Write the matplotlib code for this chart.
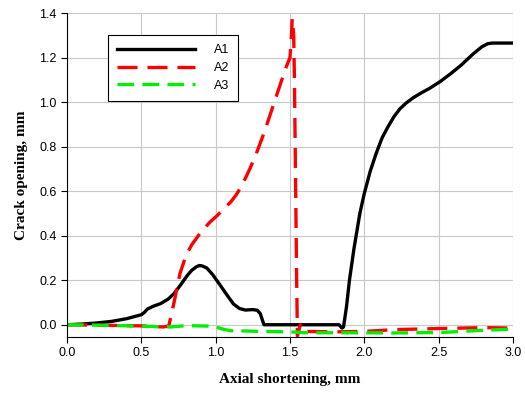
import matplotlib.pyplot as plt
import numpy as np

# A1 - black solid
a1_x = [0.0, 0.1, 0.2, 0.3, 0.4, 0.5, 0.52, 0.54, 0.58, 0.63, 0.68, 0.72, 0.76, 0.81, 0.84, 0.87,
        0.89, 0.91, 0.94, 0.98, 1.03, 1.08, 1.12, 1.16, 1.2, 1.25, 1.28, 1.3, 1.31, 1.325, 1.5,
        1.7, 1.83, 1.85, 1.86, 1.88, 1.9, 1.93, 1.97, 2.0, 2.04, 2.08, 2.12, 2.16, 2.2, 2.24,
        2.28, 2.33, 2.38, 2.44, 2.51, 2.58, 2.65, 2.73, 2.79, 2.83, 2.86, 3.0]
a1_y = [0.0, 0.003, 0.008, 0.015, 0.027, 0.045, 0.055, 0.07, 0.083, 0.095, 0.115, 0.14, 0.175,
        0.222, 0.245, 0.26, 0.266, 0.264, 0.255, 0.225, 0.178, 0.13, 0.093, 0.073, 0.066, 0.068,
        0.065, 0.05, 0.03, 0.0, 0.0, 0.0, 0.0, -0.015, -0.01, 0.08, 0.2, 0.34, 0.5, 0.59, 0.69,
        0.77, 0.84, 0.89, 0.935, 0.97, 0.995, 1.02, 1.04, 1.062, 1.092, 1.127, 1.165, 1.215,
        1.248, 1.262, 1.265, 1.265]

# A2 - red dashed
a2_x = [0.0, 0.3, 0.5, 0.65, 0.685, 0.72, 0.76, 0.8, 0.84, 0.9, 0.96, 1.01, 1.06, 1.1, 1.14,
        1.18, 1.23, 1.28, 1.33, 1.38, 1.43, 1.47, 1.5, 1.51, 1.515, 1.525, 1.53, 1.545, 1.55, 1.57,
        1.6, 1.8, 2.0, 2.2, 2.5, 2.8, 3.0]
a2_y = [0.0, -0.003, -0.005, -0.01, -0.005, 0.1, 0.23, 0.31, 0.36, 0.415, 0.46, 0.49, 0.525,
        0.55, 0.585, 0.63, 0.7, 0.78, 0.87, 0.97, 1.07, 1.15, 1.2, 1.3, 1.375, 1.3, 1.1, 0.2,
        -0.05, 0.0, -0.03, -0.032, -0.03, -0.022, -0.017, -0.013, -0.015]

# A3 - green dashed
a3_x = [0.0, 0.3, 0.6, 0.7, 0.8, 0.95, 1.0, 1.05, 1.1, 1.2, 1.3, 1.5, 1.6, 1.8, 2.0, 2.2,
        2.5, 2.6, 2.7, 2.9, 3.0]
a3_y = [0.0, -0.003, -0.008, -0.01, -0.004, -0.006, -0.01, -0.02, -0.027, -0.028, -0.03, -0.032,
        -0.036, -0.036, -0.036, -0.037, -0.035, -0.032, -0.028, -0.022, -0.02]

fig = plt.figure(figsize=(5.25, 3.94), dpi=100)
ax = fig.add_axes([0.1276, 0.1447, 0.8495, 0.8223])

ax.plot(a1_x, a1_y, color="black", lw=2.4, label="A1")
ax.plot(a2_x, a2_y, color="#ff0000", lw=2.4, dashes=(6, 3), label="A2")
ax.plot(a3_x, a3_y, color="#00ee00", lw=2.4, dashes=(5, 2.5), label="A3")

ax.set_xlim(0, 3.0)
ax.set_ylim(-0.055, 1.4)
ax.set_xticks(np.arange(0, 3.01, 0.5))
ax.set_yticks(np.arange(0, 1.41, 0.2))
ax.set_xticklabels(["%.1f" % v for v in np.arange(0, 3.01, 0.5)], family="Liberation Sans", fontsize=9)
ax.set_yticklabels(["%.1f" % v for v in np.arange(0, 1.41, 0.2)], family="Liberation Sans", fontsize=9)
ax.grid(True, color="#c8c8c8", lw=0.8)
ax.set_axisbelow(True)
for s in ["top", "right"]:
    ax.spines[s].set_visible(False)
ax.tick_params(direction="out", length=4, color="black")

ax.set_xlabel("Axial shortening, mm", family="Liberation Serif", fontweight="bold", fontsize=11, labelpad=10)
ax.set_ylabel("Crack opening, mm", family="Liberation Serif", fontweight="bold", fontsize=11, labelpad=8)

leg = ax.legend(loc="upper left", bbox_to_anchor=(0.092, 0.932), borderaxespad=0,
                prop={"family": "Liberation Sans", "size": 9}, handlelength=6.2,
                handletextpad=1.5, fancybox=False, framealpha=1, edgecolor="black",
                borderpad=0.75, labelspacing=0.45)
leg.get_frame().set_linewidth(0.8)

fig.savefig("out.png", dpi=100)
